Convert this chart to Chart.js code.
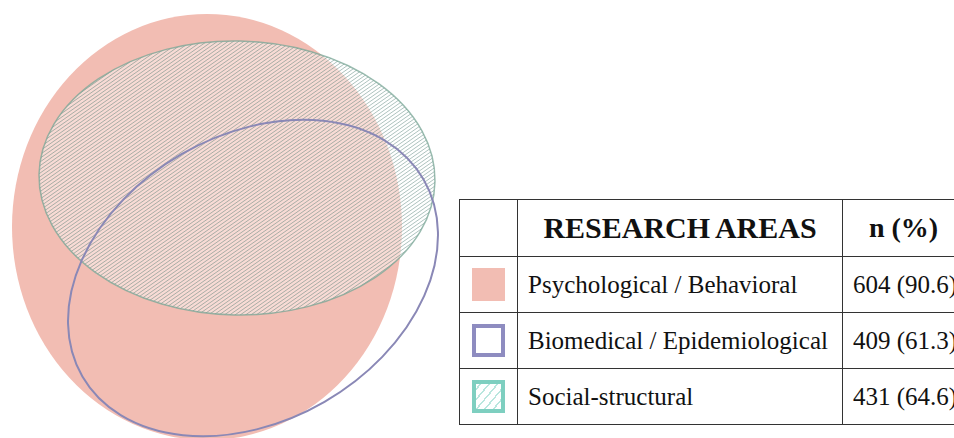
<!DOCTYPE html>
<html>
<head>
<meta charset="utf-8">
<script src="https://cdn.jsdelivr.net/npm/chart.js@4.4.1/dist/chart.umd.min.js"></script>
<style>
  body { margin: 0; background: #fff; width: 954px; height: 438px; overflow: hidden; position: relative;
         font-family: "Liberation Serif", "Times New Roman", serif; color: #111; }
  #venn { position: absolute; left: 0; top: 0; width: 455px; height: 438px; }
  #areas { position: absolute; left: 459px; top: 199px; width: 505px; min-width: 505px;
           border-collapse: collapse; table-layout: fixed; }
  #areas td, #areas th { border: 1.5px solid #333; padding: 0; white-space: nowrap; overflow: hidden; }
  #areas th { height: 56px; font-weight: bold; text-align: center; }
  #areas td { height: 55px; font-size: 25px; text-align: left; padding-left: 10px; }
  #areas td.sw { padding-left: 0; text-align: center; }
  .h1 { font-size: 30px; word-spacing: -1px; }
  .h2 { font-size: 28px; }
  .swatch { display: inline-block; width: 33px; height: 33px; box-sizing: border-box; vertical-align: middle; }
  .s0 { background: #f2bdb3; }
  .s1 { border: 4px solid #8e8cc0; background: #fff; }
  .s2 { border: 4px solid #7ecfc0;
        background: repeating-linear-gradient(-50deg, #fff 0 5px, #b9e6de 5px 6.5px); }
</style>
</head>
<body>
<div id="venn"><canvas id="myChart"></canvas></div>
<table id="areas">
  <colgroup><col style="width:58px"><col style="width:325px"><col style="width:122px"></colgroup>
  <thead><tr><th></th><th><span class="h1">RESEARCH AREAS</span></th><th><span class="h2">n (%)</span></th></tr></thead>
  <tbody id="rows"></tbody>
</table>
<script>
var areas = ['Psychological / Behavioral', 'Biomedical / Epidemiological', 'Social-structural'];
var counts = [604, 409, 431];
var percents = [90.6, 61.3, 64.6];

// ellipse of each area, in diagram units
var centerX = [207, 253, 237];
var centerY = [227, 278, 178];
var radiusX = [195, 197, 198];
var radiusY = [213, 143, 137];
var tilt = [0, -30, 1]; // degrees

// pink first, hatched next, blue outline on top
var drawOrder = [0, 2, 1];
var styles = [
  { fill: '#f2bdb3' },
  { stroke: '#8a88b6', lineWidth: 2 },
  { fill: 'rgba(255,255,255,0.45)', hatch: 'rgba(60,110,100,0.42)', stroke: 'rgba(120,165,150,0.75)', lineWidth: 1.5 }
];

// table rows
var tbody = document.getElementById('rows');
areas.forEach(function (name, i) {
  var tr = document.createElement('tr');
  tr.innerHTML = '<td class="sw"><span class="swatch s' + i + '"></span></td>' +
    '<td>' + name + '</td>' +
    '<td>' + counts[i] + ' (' + percents[i].toFixed(1) + ')</td>';
  tbody.appendChild(tr);
});

function ellipsePath(ctx, px, py, rx, ry, rot) {
  ctx.beginPath();
  ctx.ellipse(px, py, rx, ry, rot, 0, Math.PI * 2);
}

const vennPlugin = {
  id: 'venn',
  afterDatasetsDraw(chart) {
    const ctx = chart.ctx;
    const xs = chart.scales.x, ys = chart.scales.y;
    drawOrder.forEach(function (i) {
      const st = styles[i];
      const px = xs.getPixelForValue(centerX[i]);
      const py = ys.getPixelForValue(centerY[i]);
      const rx = Math.abs(xs.getPixelForValue(centerX[i] + radiusX[i]) - px);
      const ry = Math.abs(ys.getPixelForValue(centerY[i] + radiusY[i]) - py);
      const rot = tilt[i] * Math.PI / 180;
      ctx.save();
      ellipsePath(ctx, px, py, rx, ry, rot);
      if (st.fill) {
        ctx.fillStyle = st.fill;
        ctx.fill();
      }
      if (st.hatch) {
        ctx.save();
        ctx.clip();
        ctx.strokeStyle = st.hatch;
        ctx.lineWidth = 1;
        const r = Math.max(rx, ry) + 10;
        const ang = 35 * Math.PI / 180;
        const step = 5.3; // horizontal spacing
        ctx.beginPath();
        for (let k = -2 * r; k <= 2 * r; k += step) {
          const x0 = px + k - r / Math.tan(ang);
          const x1 = px + k + r / Math.tan(ang);
          ctx.moveTo(x0, py + r);
          ctx.lineTo(x1, py - r);
        }
        ctx.stroke();
        ctx.restore();
      }
      if (st.stroke) {
        ellipsePath(ctx, px, py, rx, ry, rot);
        ctx.strokeStyle = st.stroke;
        ctx.lineWidth = st.lineWidth;
        ctx.stroke();
      }
      ctx.restore();
    });
  }
};

const config = {
  type: 'scatter',
  data: {
    datasets: [{
      label: 'centers',
      data: centerX.map((x, i) => ({ x: x, y: centerY[i] })),
      pointRadius: 0
    }]
  },
  options: {
    responsive: true,
    maintainAspectRatio: false,
    animation: false,
    layout: { padding: 0 },
    plugins: { legend: { display: false }, tooltip: { enabled: false } },
    scales: {
      x: { type: 'linear', min: 0, max: 455, display: false },
      y: { type: 'linear', min: 0, max: 438, reverse: true, display: false }
    }
  },
  plugins: [vennPlugin]
};

let ctx = document.getElementById('myChart');
let venn = new Chart(ctx, config);
</script>
</body>
</html>
